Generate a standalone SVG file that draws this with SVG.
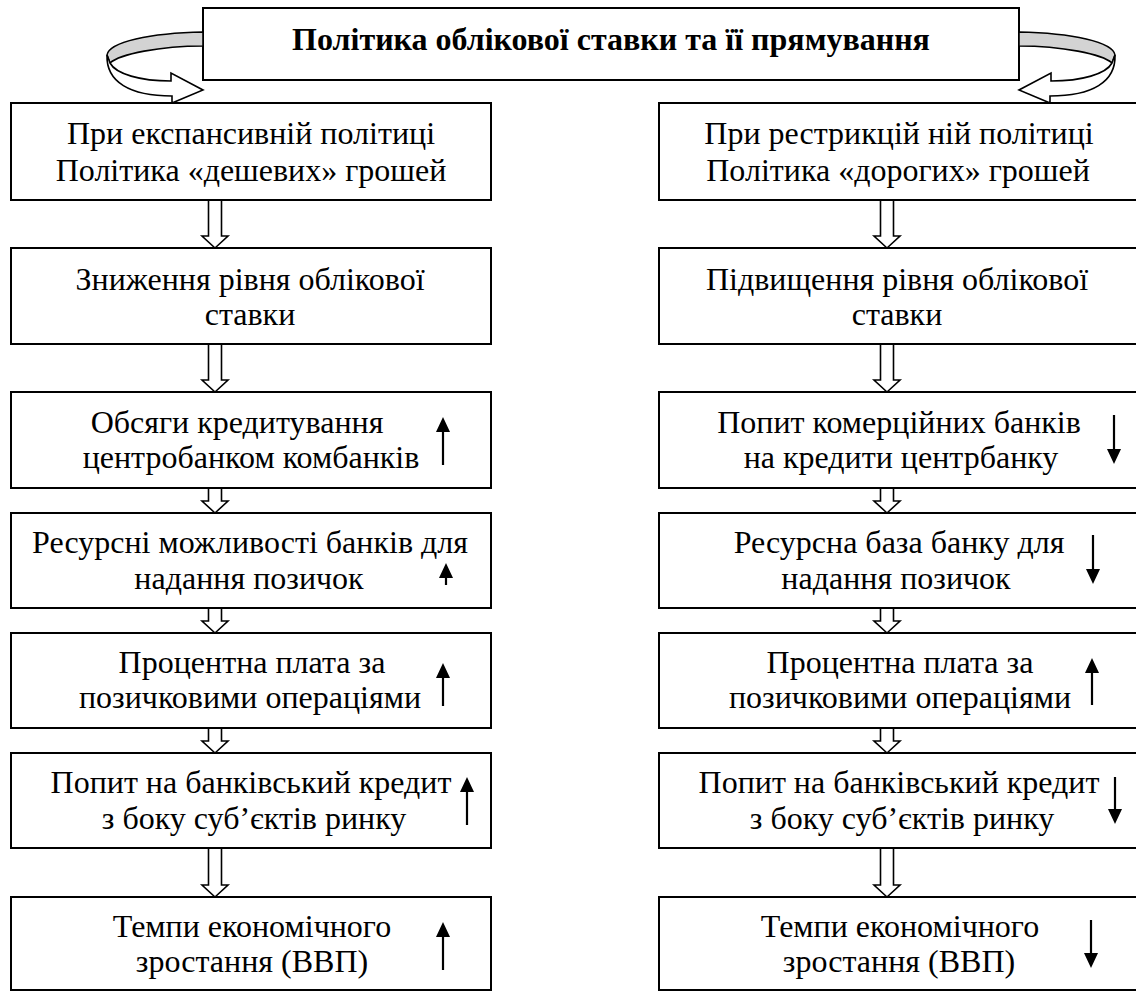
<svg xmlns="http://www.w3.org/2000/svg" width="1136" height="992" viewBox="0 0 1136 992" font-family="'Liberation Serif', 'Times New Roman', serif">
<style>
.box{fill:#fff;stroke:#000;stroke-width:2}
.t{font-size:32px;fill:#000;text-anchor:middle}
.tb{font-weight:bold}
.ho{fill:#fff;stroke:#000;stroke-width:1.6;stroke-linejoin:miter}
.sh{stroke:#000;stroke-width:2.2;fill:none}
.hd{fill:#000}
.back{fill:#d3d3d3;stroke:#000;stroke-width:1.6}
.front{fill:#fff;stroke:#000;stroke-width:1.6;stroke-linejoin:miter}
</style>
<rect width="1136" height="992" fill="#fff"/>
<defs>
<g id="curl">
<path class="back" d="M203,32 C150,33 109,42 107,55 L110,63 C120,54 160,46 203,46 Z"/>
<path class="front" d="M110,63 C116,74 140,81 171,81 L171,73 L203,90 L172,103 L172,96 C130,96 106,82 107,55 Z"/>
</g>
</defs>

<g id="title">
<rect class="box" x="203" y="8" width="816" height="72"/>
<text class="t tb" x="611" y="50">Політика облікової ставки та її прямування</text>
</g>

<g id="curls">
<use href="#curl"/>
<use href="#curl" transform="translate(1222,0) scale(-1,1)"/>
</g>

<g id="connectors">
<path class="ho" d="M208.5,200 V236 H202 L215,248 L228,236 H221.5 V200 Z"/>
<path class="ho" d="M208.5,344 V380 H202 L215,392 L228,380 H221.5 V344 Z"/>
<path class="ho" d="M208.5,488 V501 H202 L215,513 L228,501 H221.5 V488 Z"/>
<path class="ho" d="M208.5,608 V621 H202 L215,633 L228,621 H221.5 V608 Z"/>
<path class="ho" d="M208.5,728 V741 H202 L215,753 L228,741 H221.5 V728 Z"/>
<path class="ho" d="M208.5,848 V885 H202 L215,897 L228,885 H221.5 V848 Z"/>
<path class="ho" d="M880.5,200 V236 H874 L887,248 L900,236 H893.5 V200 Z"/>
<path class="ho" d="M880.5,344 V380 H874 L887,392 L900,380 H893.5 V344 Z"/>
<path class="ho" d="M880.5,488 V501 H874 L887,513 L900,501 H893.5 V488 Z"/>
<path class="ho" d="M880.5,608 V621 H874 L887,633 L900,621 H893.5 V608 Z"/>
<path class="ho" d="M880.5,728 V741 H874 L887,753 L900,741 H893.5 V728 Z"/>
<path class="ho" d="M880.5,848 V885 H874 L887,897 L900,885 H893.5 V848 Z"/>
</g>

<g id="L1">
<rect class="box" x="11" y="103" width="480" height="97"/>
<text class="t" x="251" y="144">При експансивній політиці</text>
<text class="t" x="251" y="181">Політика «дешевих» грошей</text>
</g>
<g id="L2">
<rect class="box" x="11" y="248" width="480" height="96"/>
<text class="t" x="250" y="290">Зниження рівня облікової</text>
<text class="t" x="250" y="325">ставки</text>
</g>
<g id="L3">
<rect class="box" x="11" y="392" width="480" height="96"/>
<text class="t" x="237" y="433">Обсяги кредитування</text>
<text class="t" x="251" y="468">центробанком комбанків</text>
<line class="sh" x1="443" y1="465" x2="443" y2="430"/>
<polygon class="hd" points="436,432 450,432 443,417"/>
</g>
<g id="L4">
<rect class="box" x="11" y="513" width="480" height="95"/>
<text class="t" x="250" y="553">Ресурсні можливості банків для</text>
<text class="t" x="249" y="589">надання позичок</text>
<line class="sh" x1="446" y1="585" x2="446" y2="576"/>
<polygon class="hd" points="439,578 453,578 446,563"/>
</g>
<g id="L5">
<rect class="box" x="11" y="633" width="480" height="95"/>
<text class="t" x="252" y="673">Процентна плата за</text>
<text class="t" x="250" y="708">позичковими операціями</text>
<line class="sh" x1="443" y1="706" x2="443" y2="676"/>
<polygon class="hd" points="436,678 450,678 443,663"/>
</g>
<g id="L6">
<rect class="box" x="11" y="753" width="480" height="95"/>
<text class="t" x="251" y="793">Попит на банківський кредит</text>
<text class="t" x="254" y="829">з боку суб’єктів ринку</text>
<line class="sh" x1="467" y1="825" x2="467" y2="790"/>
<polygon class="hd" points="460,792 474,792 467,777"/>
</g>
<g id="L7">
<rect class="box" x="11" y="897" width="480" height="93"/>
<text class="t" x="252" y="937">Темпи економічного</text>
<text class="t" x="252" y="972">зростання (ВВП)</text>
<line class="sh" x1="443" y1="970" x2="443" y2="935"/>
<polygon class="hd" points="436,937 450,937 443,922"/>
</g>

<g id="R1">
<rect class="box" x="659" y="103" width="482" height="97"/>
<text class="t" x="899" y="144">При рестрикцій ній політиці</text>
<text class="t" x="898" y="181">Політика «дорогих» грошей</text>
</g>
<g id="R2">
<rect class="box" x="659" y="248" width="482" height="96"/>
<text class="t" x="897" y="290">Підвищення рівня облікової</text>
<text class="t" x="897" y="325">ставки</text>
</g>
<g id="R3">
<rect class="box" x="659" y="392" width="482" height="96"/>
<text class="t" x="899" y="433">Попит комерційних банків</text>
<text class="t" x="901" y="468">на кредити центрбанку</text>
<line class="sh" x1="1114" y1="415" x2="1114" y2="451"/>
<polygon class="hd" points="1107,449 1121,449 1114,464"/>
</g>
<g id="R4">
<rect class="box" x="659" y="513" width="482" height="95"/>
<text class="t" x="899" y="553">Ресурсна база банку для</text>
<text class="t" x="896" y="589">надання позичок</text>
<line class="sh" x1="1093" y1="535" x2="1093" y2="571"/>
<polygon class="hd" points="1086,569 1100,569 1093,584"/>
</g>
<g id="R5">
<rect class="box" x="659" y="633" width="482" height="95"/>
<text class="t" x="900" y="673">Процентна плата за</text>
<text class="t" x="900" y="708">позичковими операціями</text>
<line class="sh" x1="1092" y1="705" x2="1092" y2="671"/>
<polygon class="hd" points="1085,673 1099,673 1092,658"/>
</g>
<g id="R6">
<rect class="box" x="659" y="753" width="482" height="95"/>
<text class="t" x="899" y="793">Попит на банківський кредит</text>
<text class="t" x="902" y="829">з боку суб’єктів ринку</text>
<line class="sh" x1="1115" y1="777" x2="1115" y2="811"/>
<polygon class="hd" points="1108,809 1122,809 1115,824"/>
</g>
<g id="R7">
<rect class="box" x="659" y="897" width="482" height="93"/>
<text class="t" x="900" y="937">Темпи економічного</text>
<text class="t" x="899" y="972">зростання (ВВП)</text>
<line class="sh" x1="1091" y1="920" x2="1091" y2="955"/>
<polygon class="hd" points="1084,953 1098,953 1091,968"/>
</g>
</svg>
